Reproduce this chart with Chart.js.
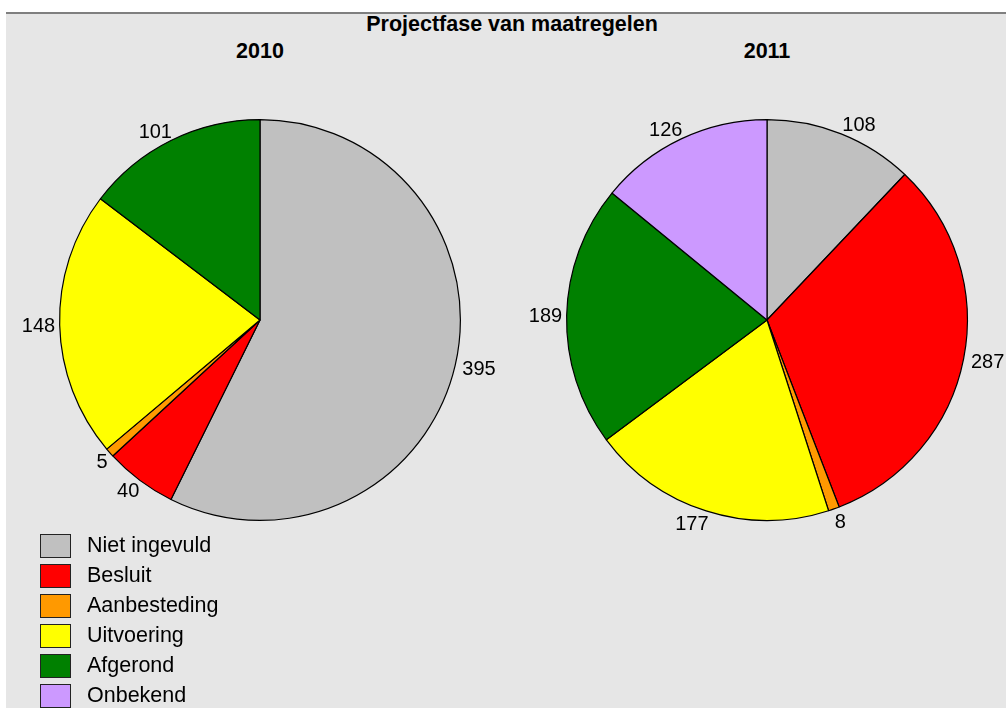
<!DOCTYPE html>
<html>
<head>
<meta charset="utf-8">
<script src="https://cdn.jsdelivr.net/npm/chart.js@4"></script>
<style>
  html, body { margin: 0; padding: 0; background: #ffffff; width: 1006px; height: 708px; overflow: hidden; }
  #panel { position: absolute; left: 6px; top: 12px; width: 1000px; height: 694px; background: #e6e6e6; border-top: 2px solid #7f7f7f; }
  canvas.full { position: absolute; left: 0; top: 0; }
  .t { position: absolute; font-family: "Liberation Sans", Arial, sans-serif; font-weight: bold; font-size: 21.5px; color: #000; transform: translate(-50%, -50%); white-space: nowrap; }
  #legend { position: absolute; left: 40px; top: 530px; font-family: "Liberation Sans", Arial, sans-serif; font-size: 21.5px; color: #000; }
  .row { position: relative; height: 30px; }
  .sw { position: absolute; left: 0; top: 4px; width: 29px; height: 22px; border: 1px solid #222; box-sizing: content-box; }
  .lab { position: absolute; left: 47px; top: 0; line-height: 30px; white-space: nowrap; }
</style>
</head>
<body>
<div id="panel"></div>
<div class="t" style="left:512px; top:24px;">Projectfase van maatregelen</div>
<div class="t" style="left:260px; top:51px;">2010</div>
<div class="t" style="left:767px; top:51px;">2011</div>
<canvas id="c1" class="full" width="1006" height="708"></canvas>
<canvas id="c2" class="full" width="1006" height="708"></canvas>
<div id="legend"></div>
<script>
const categories = ["Niet ingevuld", "Besluit", "Aanbesteding", "Uitvoering", "Afgerond", "Onbekend"];
const values2010 = [395, 40, 5, 148, 101, 0];
const values2011 = [108, 287, 8, 177, 189, 126];
const colors = ["#c0c0c0", "#ff0000", "#ff9900", "#ffff00", "#008000", "#cc99ff"];

const FONT = '"Liberation Sans", Arial, sans-serif';

const labelPlugin = {
  id: 'outerLabels',
  afterDatasetsDraw(chart) {
    const ctx = chart.ctx;
    const meta = chart.getDatasetMeta(0);
    const data = chart.data.datasets[0].data;
    ctx.save();
    ctx.font = '20px ' + FONT;
    ctx.fillStyle = '#000';
    ctx.textBaseline = 'middle';
    meta.data.forEach((arc, i) => {
      if (!data[i]) return;
      const p = arc.getProps(['x', 'y', 'startAngle', 'endAngle', 'outerRadius'], true);
      const mid = (p.startAngle + p.endAngle) / 2;
      const r = p.outerRadius + 10;
      const cx = Math.cos(mid), cy = Math.sin(mid);
      let x = p.x + cx * r;
      const y = p.y + cy * r + 1 + Math.max(0, cy) * 3;
      if (cx >= 0) { ctx.textAlign = 'left'; x -= 2.5; }
      else { ctx.textAlign = 'right'; x += 5.5; }
      ctx.fillText(String(data[i]), x, y);
    });
    ctx.restore();
  }
};

function makePie(id, values, padding) {
  return new Chart(document.getElementById(id), {
    type: 'pie',
    data: {
      labels: categories,
      datasets: [{
        data: values,
        backgroundColor: colors,
        borderColor: '#000000',
        borderWidth: 1.2,
        borderAlign: 'center'
      }]
    },
    options: {
      responsive: false,
      animation: false,
      events: [],
      layout: { padding: padding },
      plugins: { legend: { display: false }, title: { display: false }, tooltip: { enabled: false } }
    },
    plugins: [labelPlugin]
  });
}

makePie('c1', values2010, { left: 59, top: 119, right: 545, bottom: 187 });
makePie('c2', values2011, { left: 566, top: 119, right: 38, bottom: 187 });

const legend = document.getElementById('legend');
categories.forEach((name, i) => {
  const row = document.createElement('div');
  row.className = 'row';
  const sw = document.createElement('div');
  sw.className = 'sw';
  sw.style.background = colors[i];
  const lab = document.createElement('div');
  lab.className = 'lab';
  lab.textContent = name;
  row.appendChild(sw);
  row.appendChild(lab);
  legend.appendChild(row);
});
</script>
</body>
</html>
